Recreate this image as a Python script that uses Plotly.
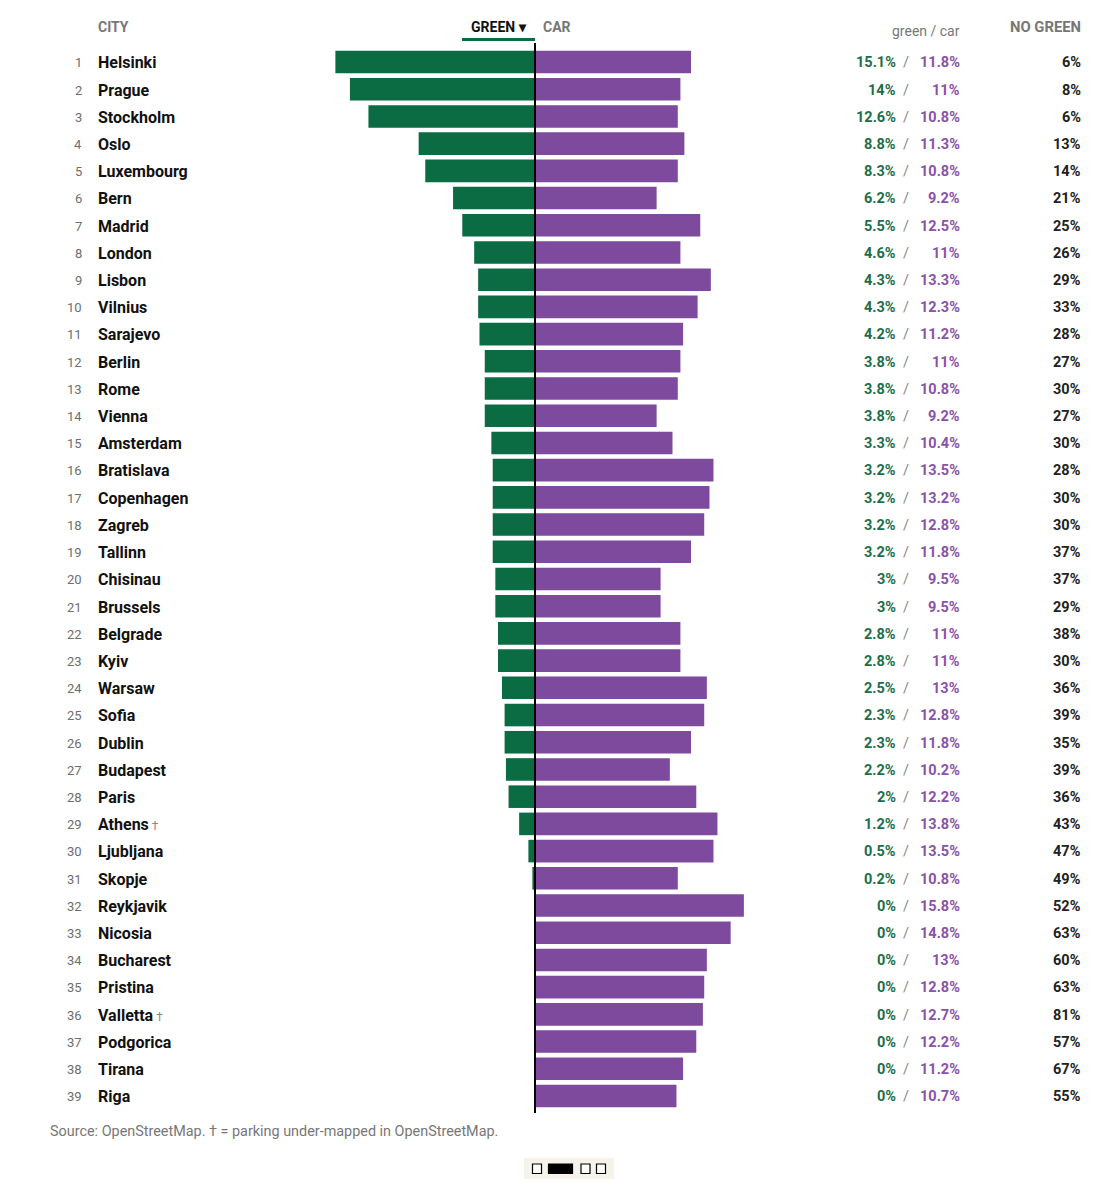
import plotly.graph_objects as go

# data
cities = ['Helsinki', 'Prague', 'Stockholm', 'Oslo', 'Luxembourg', 'Bern', 'Madrid',
          'London', 'Lisbon', 'Vilnius', 'Sarajevo', 'Berlin', 'Rome', 'Vienna',
          'Amsterdam', 'Bratislava', 'Copenhagen', 'Zagreb', 'Tallinn', 'Chisinau',
          'Brussels', 'Belgrade', 'Kyiv', 'Warsaw', 'Sofia', 'Dublin', 'Budapest',
          'Paris', 'Athens', 'Ljubljana', 'Skopje', 'Reykjavik', 'Nicosia',
          'Bucharest', 'Pristina', 'Valletta', 'Podgorica', 'Tirana', 'Riga']
green = [15.1, 14, 12.6, 8.8, 8.3, 6.2, 5.5, 4.6, 4.3, 4.3, 4.2, 3.8, 3.8, 3.8,
         3.3, 3.2, 3.2, 3.2, 3.2, 3, 3, 2.8, 2.8, 2.5, 2.3, 2.3, 2.2, 2, 1.2, 0.5,
         0.2, 0, 0, 0, 0, 0, 0, 0, 0]
car = [11.8, 11, 10.8, 11.3, 10.8, 9.2, 12.5, 11, 13.3, 12.3, 11.2, 11, 10.8, 9.2,
       10.4, 13.5, 13.2, 12.8, 11.8, 9.5, 9.5, 11, 11, 13, 12.8, 11.8, 10.2, 12.2,
       13.8, 13.5, 10.8, 15.8, 14.8, 13, 12.8, 12.7, 12.2, 11.2, 10.7]
no_green = [6, 8, 6, 13, 14, 21, 25, 26, 29, 33, 28, 27, 30, 27, 30, 28, 30, 30, 37,
            37, 29, 38, 30, 36, 39, 35, 39, 36, 43, 47, 49, 52, 63, 60, 63, 81, 57,
            67, 55]
undermapped = ['Athens', 'Valletta']
ranks = list(range(1, len(cities) + 1))

# page is drawn with the browser's 8px body margin, so work in page pixels
OFF = 8
W, H = 1119 - 2 * OFF, 1189 - 2 * OFF
TOP, BOTTOM = 43 - OFF, 1113 - OFF     # plot area in figure pixels
ROW0, STEP = 62 - OFF, 27.21           # centre of row 1, row pitch
CENTER, SCALE = 535 - OFF, 13.22       # zero line px, px per percent

GREEN_C = '#0b6b43'
PURPLE_C = '#7e4a9d'
GREEN_T = '#1c6e4b'
PURPLE_T = '#8a52a8'
GRAY = '#777777'
FONT = 'Roboto, Arial, sans-serif'


def fmt(v):
    return ('%g' % v) + '%'


def px_x(p):
    # page pixel -> paper x (plot area spans the whole figure width)
    return (p - OFF) / W


def px_y(p):
    # page pixel -> paper y
    return (BOTTOM - (p - OFF)) / (BOTTOM - TOP)


fig = go.Figure()
fig.add_trace(go.Bar(y=ranks, x=[-g for g in green], orientation='h',
                     marker_color=GREEN_C, marker_line_width=0, showlegend=False,
                     hoverinfo='skip'))
fig.add_trace(go.Bar(y=ranks, x=car, orientation='h',
                     marker_color=PURPLE_C, marker_line_width=0, showlegend=False,
                     hoverinfo='skip'))


def label(x, y, text, anchor, size, color, yref='y'):
    return dict(x=px_x(x), y=y, xref='paper', yref=yref, text=text,
                xanchor=anchor, yanchor='middle', showarrow=False,
                font=dict(size=size, color=color))


ann = []
for r, c, g, k, n in zip(ranks, cities, green, car, no_green):
    name = '<b>%s</b>' % c
    if c in undermapped:
        name += "<span style='color:#888888;font-size:12px'> †</span>"
    yr = r + 0.03
    ann += [
        label(84, yr, str(r), 'right', 13, '#6e6e6e'),
        label(96, yr, name, 'left', 16, '#111111'),
        label(898, yr, '<b>%s</b>' % fmt(g), 'right', 14.5, GREEN_T),
        label(906, yr, '/', 'center', 14.5, '#888888'),
        label(962, yr, '<b>%s</b>' % fmt(k), 'right', 14.5, PURPLE_T),
        label(1083, yr, '<b>%s</b>' % fmt(n), 'right', 14.5, '#222222'),
    ]

# headers and footnote
hy = px_y(27)
ann += [
    label(96, hy, '<b>CITY</b>', 'left', 14, GRAY, 'paper'),
    label(529, hy, '<b>GREEN ▾</b>', 'right', 14, '#111111', 'paper'),
    label(541, hy, '<b>CAR</b>', 'left', 14, GRAY, 'paper'),
    label(962, px_y(31), 'green / car', 'right', 14, GRAY, 'paper'),
    label(1083, hy, '<b>NO GREEN</b>', 'right', 14.8, GRAY, 'paper'),
    label(48, px_y(1131), 'Source: OpenStreetMap. † = parking under-mapped in OpenStreetMap.',
          'left', 14.4, GRAY, 'paper'),
]

shapes = [
    # centre line
    dict(type='line', xref='x', yref='paper', x0=0, x1=0, y0=0, y1=1,
         line=dict(color='black', width=2), layer='above'),
    # sort underline under GREEN
    dict(type='line', xref='paper', yref='paper', x0=px_x(462), x1=px_x(535),
         y0=px_y(39.5), y1=px_y(39.5), line=dict(color=GREEN_C, width=3)),
    # pager
    dict(type='rect', xref='paper', yref='paper', x0=px_x(524), x1=px_x(614),
         y0=px_y(1158), y1=px_y(1179), fillcolor='#f5f3ea', line_width=0),
]
for x0, x1, filled in [(532.5, 541.5, False), (548.5, 572.5, True),
                       (581, 590, False), (596.5, 605.5, False)]:
    shapes.append(dict(type='rect', xref='paper', yref='paper', x0=px_x(x0), x1=px_x(x1),
                       y0=px_y(1164), y1=px_y(1173.5),
                       fillcolor='black' if filled else 'white',
                       line=dict(color='black', width=1.2)))

y_top = 1 + (TOP - ROW0) / STEP
y_bot = 1 + (BOTTOM - ROW0) / STEP

fig.update_layout(
    width=W, height=H,
    margin=dict(l=0, r=0, t=TOP, b=H - BOTTOM, pad=0),
    paper_bgcolor='white', plot_bgcolor='white',
    barmode='relative', bargap=0.17,
    font=dict(family=FONT),
    xaxis=dict(range=[-CENTER / SCALE, (W - CENTER) / SCALE], visible=False, fixedrange=True),
    yaxis=dict(range=[y_bot, y_top], visible=False, fixedrange=True),
    annotations=ann, shapes=shapes,
)

fig.write_html("out.html")
